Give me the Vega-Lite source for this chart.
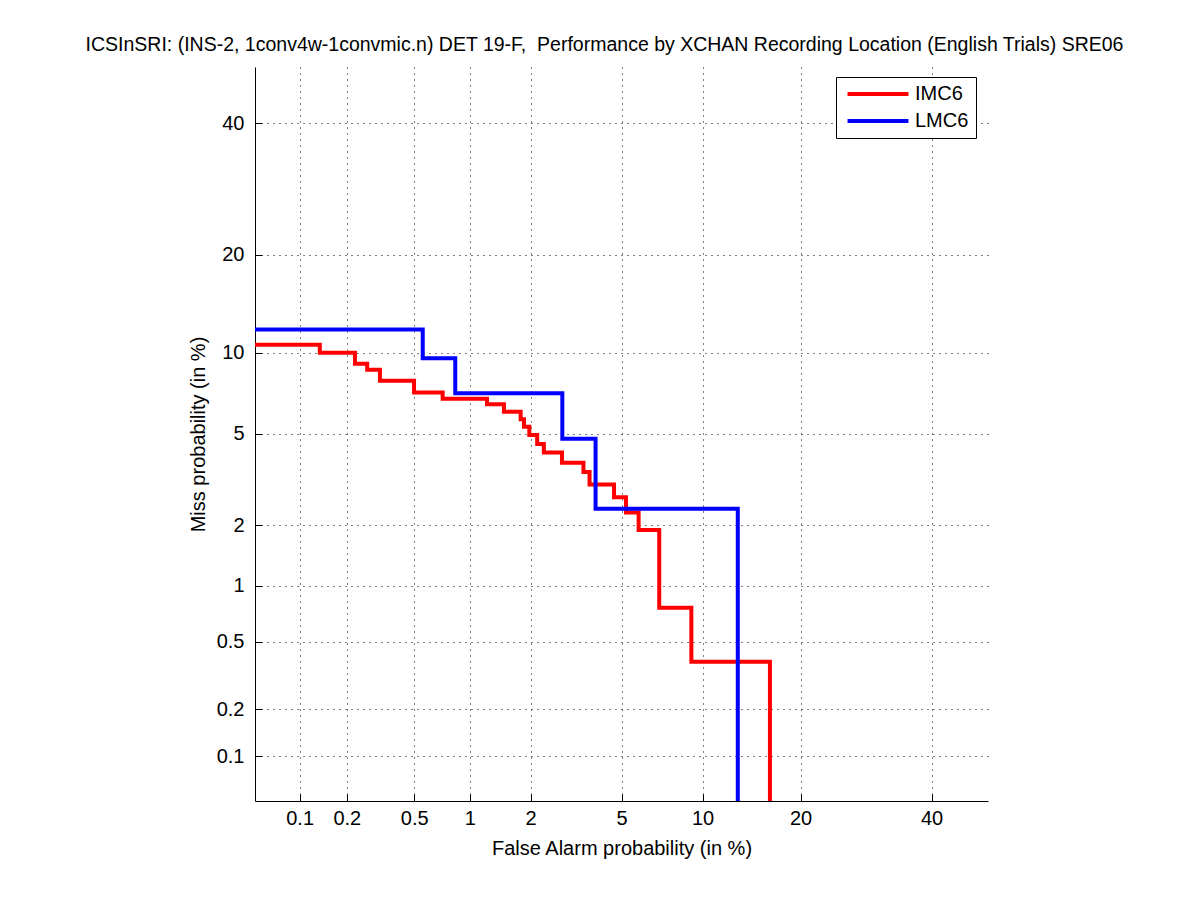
{
  "$schema": "https://vega.github.io/schema/vega-lite/v6.json",
  "autosize": "none",
  "width": 733,
  "height": 734,
  "padding": {"left": 255, "top": 67, "right": 213, "bottom": 99},
  "background": "white",
  "title": {
    "text": "ICSInSRI: (INS-2, 1conv4w-1convmic.n) DET 19-F,\u00a0 Performance by XCHAN Recording Location (English Trials) SRE06",
    "font": "Liberation Sans",
    "fontSize": 19.5,
    "fontWeight": "normal",
    "color": "black",
    "anchor": "middle",
    "dx": -17,
    "offset": 12
  },
  "data": {
    "values": [
      {"series": "IMC6", "fa": 0.01, "miss": 10.69},
      {"series": "IMC6", "fa": 0.137, "miss": 10.0},
      {"series": "IMC6", "fa": 0.228, "miss": 9.21},
      {"series": "IMC6", "fa": 0.270, "miss": 8.78},
      {"series": "IMC6", "fa": 0.319, "miss": 7.98},
      {"series": "IMC6", "fa": 0.499, "miss": 7.23},
      {"series": "IMC6", "fa": 0.724, "miss": 6.86},
      {"series": "IMC6", "fa": 1.228, "miss": 6.54},
      {"series": "IMC6", "fa": 1.49, "miss": 6.12},
      {"series": "IMC6", "fa": 1.81, "miss": 5.73},
      {"series": "IMC6", "fa": 1.874, "miss": 5.36},
      {"series": "IMC6", "fa": 1.977, "miss": 4.95},
      {"series": "IMC6", "fa": 2.16, "miss": 4.57},
      {"series": "IMC6", "fa": 2.32, "miss": 4.21},
      {"series": "IMC6", "fa": 2.80, "miss": 3.81},
      {"series": "IMC6", "fa": 3.47, "miss": 3.47},
      {"series": "IMC6", "fa": 3.69, "miss": 3.07},
      {"series": "IMC6", "fa": 4.68, "miss": 2.70},
      {"series": "IMC6", "fa": 5.22, "miss": 2.30},
      {"series": "IMC6", "fa": 5.85, "miss": 1.906},
      {"series": "IMC6", "fa": 7.0, "miss": 0.771},
      {"series": "IMC6", "fa": 9.19, "miss": 0.385},
      {"series": "IMC6", "fa": 16.4, "miss": 0.01},
      {"series": "LMC6", "fa": 0.01, "miss": 11.97},
      {"series": "LMC6", "fa": 0.560, "miss": 9.61},
      {"series": "LMC6", "fa": 0.842, "miss": 7.18},
      {"series": "LMC6", "fa": 2.81, "miss": 4.80},
      {"series": "LMC6", "fa": 3.91, "miss": 2.39},
      {"series": "LMC6", "fa": 13.07, "miss": 0.01}
    ]
  },
  "mark": {"type": "line", "interpolate": "step-after", "strokeWidth": 4, "clip": true},
  "encoding": {
    "x": {
      "field": "fa",
      "type": "quantitative",
      "scale": {
        "type": "linear",
        "zero": false,
        "nice": false,
        "domain": [0.05, 0.07, 0.1, 0.15, 0.2, 0.3, 0.4, 0.5, 0.6, 0.8, 1, 1.2, 1.5, 2, 2.5, 3, 3.5, 4, 5, 6, 7, 8, 10, 12, 13, 15, 17, 20, 25, 30, 40, 50],
        "range": [0, 21.34, 44.62, 71.91, 91.84, 120.89, 142.21, 159.21, 173.40, 196.39, 214.79, 230.20, 249.58, 275.51, 296.38, 314.03, 329.37, 343.01, 366.57, 386.64, 404.24, 420.00, 447.50, 471.25, 482.08, 502.13, 520.43, 545.52, 582.74, 616.18, 676.57, 733.0]
      },
      "axis": {
        "title": "False Alarm probability (in %)",
        "values": [0.1, 0.2, 0.5, 1, 2, 5, 10, 20, 40],
        "format": "~g",
        "tickSize": -7,
        "labelPadding": 14,
        "titlePadding": 10
      }
    },
    "y": {
      "field": "miss",
      "type": "quantitative",
      "scale": {
        "type": "linear",
        "zero": false,
        "nice": false,
        "domain": [0.05, 0.07, 0.1, 0.15, 0.2, 0.3, 0.4, 0.5, 0.6, 0.8, 1, 1.2, 1.5, 2, 2.5, 3, 3.5, 4, 5, 6, 7, 8, 10, 12, 13, 15, 17, 20, 25, 30, 40, 50],
        "range": [734, 712.63, 689.32, 661.99, 642.03, 612.94, 591.59, 574.57, 560.36, 537.34, 518.92, 503.48, 484.07, 458.11, 437.21, 419.54, 404.17, 390.52, 366.92, 346.82, 329.20, 313.42, 285.87, 262.09, 251.25, 231.18, 212.84, 187.72, 150.45, 116.97, 56.49, 0]
      },
      "axis": {
        "title": "Miss probability (in %)",
        "values": [0.1, 0.2, 0.5, 1, 2, 5, 10, 20, 40],
        "format": "~g",
        "tickSize": -7,
        "labelPadding": 18,
        "titlePadding": 8
      }
    },
    "color": {
      "field": "series",
      "type": "nominal",
      "scale": {"domain": ["IMC6", "LMC6"], "range": ["#ff0000", "#0000ff"]},
      "legend": {
        "title": null,
        "orient": "none",
        "legendX": 581,
        "legendY": 10,
        "symbolType": "M-4,0H4",
        "symbolSize": 232,
        "symbolStrokeWidth": 4,
        "symbolOffset": 25,
        "labelFontSize": 20,
        "labelFont": "Liberation Sans",
        "labelColor": "black",
        "labelOffset": 27,
        "rowPadding": 7,
        "padding": 7,
        "strokeColor": "black",
        "fillColor": "white"
      }
    }
  },
  "config": {
    "view": {"stroke": null},
    "axis": {
      "labelFont": "Liberation Sans",
      "labelFontSize": 20,
      "labelColor": "black",
      "titleFont": "Liberation Sans",
      "titleFontSize": 20,
      "titleFontWeight": "normal",
      "titleColor": "black",
      "domainColor": "black",
      "domainWidth": 1,
      "tickColor": "black",
      "tickWidth": 1,
      "grid": true,
      "gridColor": "black",
      "gridOpacity": 1,
      "gridWidth": 1,
      "gridDash": [1, 5]
    }
  }
}
